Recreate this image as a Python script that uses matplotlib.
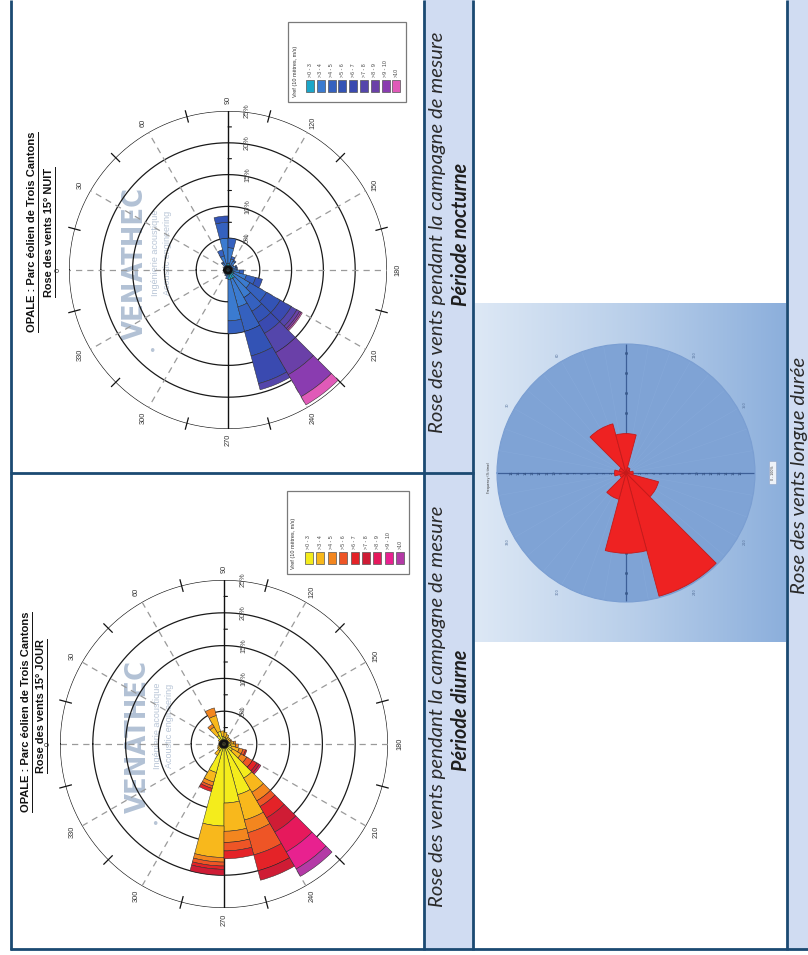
import numpy as np
import matplotlib
matplotlib.use("Agg")
import matplotlib.pyplot as plt
from matplotlib.patches import Rectangle, FancyBboxPatch
from matplotlib.colors import LinearSegmentedColormap

# page size in pixels (figure is drawn at dpi=100)
W, H = 808, 955

FRAME = "#1b4a72"
CAPTION_BG = "#d0dcf2"

SPEED_LABELS = [">0 - 3", ">3 - 4", ">4 - 5", ">5 - 6", ">6 - 7",
                ">7 - 8", ">8 - 9", ">9 - 10", ">10"]
DIR_START = list(range(0, 360, 15))        # start of each 15° sector
COMPASS_LABELS = list(range(0, 360, 30))
RING_PCT = [5, 10, 15, 20, 25]

NIGHT_COLORS = ["#1ba6c9", "#3b7bd0", "#3561bf", "#3353b5", "#3a4ab0",
                "#5446ab", "#6a40a8", "#8a3cb0", "#e05ab8"]
DAY_COLORS = ["#f4ec1c", "#f8b81c", "#f3861f", "#ee5526", "#e42328",
              "#cf1c35", "#e6195c", "#e8218f", "#b43aa6"]

# frequency (%) per sector, one row per sector, one column per speed class
NIGHT_FREQ = [
    [0.4, 0.3, 0, 0, 0, 0, 0, 0, 0],          # 0
    [0.4, 0.3, 0, 0, 0, 0, 0, 0, 0],          # 15
    [0.4, 0.4, 0, 0, 0, 0, 0, 0, 0],          # 30
    [0.6, 0.7, 0.2, 0, 0, 0, 0, 0, 0],        # 45
    [0.8, 1.5, 1.0, 0, 0, 0, 0, 0, 0],        # 60
    [1.0, 4.0, 2.5, 1.0, 0, 0, 0, 0, 0],      # 75
    [1.0, 2.5, 1.5, 0, 0, 0, 0, 0, 0],        # 90
    [0.8, 1.0, 0.4, 0, 0, 0, 0, 0, 0],        # 105
    [0.8, 0.8, 0.2, 0, 0, 0, 0, 0, 0],        # 120
    [0.6, 0.5, 0, 0, 0, 0, 0, 0, 0],          # 135
    [0.7, 0.6, 0.2, 0, 0, 0, 0, 0, 0],        # 150
    [0.7, 0.6, 0.2, 0, 0, 0, 0, 0, 0],        # 165
    [0.8, 1.0, 0.7, 0, 0, 0, 0, 0, 0],        # 180
    [1.0, 2.0, 1.5, 1.1, 0, 0, 0, 0, 0],      # 195
    [1.0, 3.0, 3.0, 2.5, 2.0, 1.0, 0.5, 0.3, 0.2],   # 210
    [1.5, 3.5, 2.5, 2.0, 2.0, 3.5, 4.0, 4.0, 1.5],   # 225
    [1.5, 4.5, 4.0, 4.0, 4.5, 1.0, 0, 0, 0],  # 240
    [1.5, 6.5, 2.0, 0, 0, 0, 0, 0, 0],        # 255
    [0.8, 0.6, 0, 0, 0, 0, 0, 0, 0],          # 270
    [0.6, 0.4, 0, 0, 0, 0, 0, 0, 0],          # 285
    [0.5, 0.3, 0, 0, 0, 0, 0, 0, 0],          # 300
    [0.4, 0.3, 0, 0, 0, 0, 0, 0, 0],          # 315
    [0.4, 0.3, 0, 0, 0, 0, 0, 0, 0],          # 330
    [0.4, 0.3, 0, 0, 0, 0, 0, 0, 0],          # 345
]

DAY_FREQ = [
    [0.5, 0.3, 0, 0, 0, 0, 0, 0, 0],          # 0
    [0.5, 0.3, 0, 0, 0, 0, 0, 0, 0],          # 15
    [0.6, 0.4, 0, 0, 0, 0, 0, 0, 0],          # 30
    [1.5, 1.5, 0.5, 0, 0, 0, 0, 0, 0],        # 45
    [2.0, 2.5, 1.2, 0, 0, 0, 0, 0, 0],        # 60
    [1.2, 0.8, 0, 0, 0, 0, 0, 0, 0],          # 75
    [1.0, 0.8, 0, 0, 0, 0, 0, 0, 0],          # 90
    [0.9, 0.6, 0, 0, 0, 0, 0, 0, 0],          # 105
    [0.7, 0.5, 0, 0, 0, 0, 0, 0, 0],          # 120
    [0.7, 0.5, 0, 0, 0, 0, 0, 0, 0],          # 135
    [0.7, 0.4, 0.2, 0, 0, 0, 0, 0, 0],        # 150
    [0.9, 0.6, 0.3, 0, 0, 0, 0, 0, 0],        # 165
    [1.0, 0.8, 0.4, 0, 0, 0, 0, 0, 0],        # 180
    [1.2, 1.2, 0.6, 0.4, 0.2, 0, 0, 0, 0],    # 195
    [1.5, 1.5, 1.0, 1.0, 0.8, 0.4, 0.3, 0, 0],       # 210
    [6.0, 2.5, 1.5, 1.0, 2.0, 2.5, 3.5, 3.0, 1.3],   # 225
    [8.0, 4.0, 2.0, 3.5, 2.5, 1.5, 0, 0, 0],  # 240
    [9.0, 4.3, 1.7, 1.3, 1.2, 0, 0, 0, 0],    # 255
    [12.5, 4.8, 0.7, 0.6, 0.5, 0.9, 0, 0, 0], # 270
    [4.5, 1.5, 0.6, 0.4, 0.5, 0, 0, 0, 0],    # 285
    [1.2, 0.8, 0, 0, 0, 0, 0, 0, 0],          # 300
    [0.7, 0.5, 0, 0, 0, 0, 0, 0, 0],          # 315
    [0.6, 0.4, 0, 0, 0, 0, 0, 0, 0],          # 330
    [0.5, 0.3, 0, 0, 0, 0, 0, 0, 0],          # 345
]

# long-term rose, 30° sectors centred on the direction
LT_DIRS = [0, 30, 60, 90, 120, 150, 180, 210, 240, 270, 300, 330]
LT_FREQ = [1.6, 1.0, 7.1, 5.5, 0.8, 0.6, 1.0, 4.7, 17.8, 11.2, 3.8, 0.9]
LT_RMAX = 18

CAPTION = "Rose des vents pendant la campagne de mesure"
TITLE_1 = "OPALE : Parc éolien de Trois Cantons"

SANS = ["Liberation Sans", "DejaVu Sans"]
CAP_FONT = ["Lato", "DejaVu Sans"]

fig = plt.figure(figsize=(W / 100, H / 100), dpi=100)
fig.patch.set_facecolor("white")

# full-page axes in pixel coordinates (y pointing down)
bg = fig.add_axes([0, 0, 1, 1])
bg.set_xlim(0, W)
bg.set_ylim(H, 0)
bg.axis("off")


def px_axes(cx, cy, r, **kw):
    return fig.add_axes([(cx - r) / W, (H - cy - r) / H, 2 * r / W, 2 * r / H], **kw)


# ---- table cells ----
bg.add_patch(Rectangle((424, 0), 49, 949, color=CAPTION_BG, zorder=0))
bg.add_patch(Rectangle((787, 0), W - 787, 949, color=CAPTION_BG, zorder=0))

# long-term rose screenshot background (horizontal blue gradient)
grad_cmap = LinearSegmentedColormap.from_list("bluegrad", ["#dde8f5", "#b9cfea", "#8cafdc"])
bg.imshow(np.linspace(0, 1, 256)[None, :], cmap=grad_cmap, aspect="auto",
          extent=(475, 786, 642, 303), zorder=0.5)
bg.set_xlim(0, W)
bg.set_ylim(H, 0)

frame_kw = dict(color=FRAME, lw=2.0, solid_capstyle="butt", zorder=5)
bg.plot([10.7, 10.7], [0, 949.5], **frame_kw)
bg.plot([9.5, W], [948.7, 948.7], **frame_kw)
bg.plot([424, 424], [0, 949.5], **frame_kw)
bg.plot([473, 473], [0, 949.5], **frame_kw)
bg.plot([786.7, 786.7], [0, 949.5], **frame_kw)
bg.plot([9.5, 474], [472.5, 472.5], **frame_kw)

# ---- captions (page is turned, text runs bottom-to-top) ----
cap_kw = dict(rotation=90, ha="center", va="center", family=CAP_FONT, style="italic")
bg.text(437, 232, CAPTION, fontsize=14.6, weight="normal", color="#2a2a2a", **cap_kw)
bg.text(461, 234, "Période nocturne", fontsize=14.2, weight="bold", color="#1e1e1e", **cap_kw)
bg.text(437, 706, CAPTION, fontsize=14.6, weight="normal", color="#2a2a2a", **cap_kw)
bg.text(461, 710, "Période diurne", fontsize=14.2, weight="bold", color="#1e1e1e", **cap_kw)
bg.text(799, 475, "Rose des vents longue durée", fontsize=14.6, weight="normal",
        color="#2a2a2a", **cap_kw)


def wind_rose(ax, freq, colors, rmax=25):
    ax.set_theta_zero_location("W")
    ax.set_theta_direction(-1)
    ax.set_facecolor("none")
    ax.grid(False)
    ax.set_xticks([])
    ax.set_yticks([])
    ax.spines["polar"].set_visible(False)
    ax.set_ylim(0, rmax)

    t = np.linspace(0, 2 * np.pi, 721)
    for r in RING_PCT:
        ax.plot(t, np.full_like(t, r), color="#1a1a1a", lw=0.9, zorder=2)
    for a in COMPASS_LABELS:
        th = np.deg2rad(a)
        if a in (90, 270):
            ax.plot([th, th], [0, rmax], color="#111111", lw=1.0, zorder=2.5)
        else:
            ax.plot([th, th], [0, rmax], color="#9a9a9a", lw=0.9, ls=(0, (5, 4)), zorder=2)
        ax.text(th, rmax * 1.07, str(a), rotation=90, ha="center", va="center",
                fontsize=5.3, family=SANS, color="#333333")
    # ticks across the outer ring
    for a in range(15, 360, 30):
        th = np.deg2rad(a)
        ax.plot([th, th], [rmax - 0.9, rmax + 0.9], color="#111111", lw=0.9, zorder=2,
                clip_on=False)
    # radial ticks and labels along the 90° axis
    for r in np.arange(2.5, rmax, 5):
        ax.annotate("", xy=(np.pi / 2, r), xytext=(2.5, 0), textcoords="offset points",
                    arrowprops=dict(arrowstyle="-", lw=0.8, color="#111111",
                                    shrinkA=0, shrinkB=0))
    for r in RING_PCT:
        ax.annotate(f"{r}%", xy=(np.pi / 2, r), xytext=(14, 0), textcoords="offset points",
                    rotation=90, ha="center", va="center", fontsize=5.3, family=SANS,
                    color="#444444")

    theta = np.deg2rad(np.array(DIR_START) + 7.5)
    freq = np.array(freq, dtype=float)
    bottom = np.zeros(len(theta))
    for k, c in enumerate(colors):
        h = freq[:, k]
        m = h > 0
        ax.bar(theta[m], h[m], width=np.deg2rad(15), bottom=bottom[m], color=c,
               edgecolor="#2a2a2a", linewidth=0.35, zorder=3)
        bottom += h
    ax.plot(np.linspace(0, 2 * np.pi, 40), np.full(40, 0.5), color="#111111", lw=2.0, zorder=4)


marks = []


def watermark(cx, cy):
    mark = bg.text(cx, cy, "VENATHEC", rotation=90, ha="center", va="center", fontsize=24,
                   weight="bold", stretch="condensed", family=["DejaVu Sans"],
                   color="#9fb2cb", alpha=0.8, zorder=6)
    marks.append(mark)
    bg.text(cx + 20, cy - 10, "Ingénierie acoustique", rotation=90, ha="center", va="center",
            fontsize=6.5, family=SANS, color="#b8c5d6", zorder=6)
    bg.text(cx + 32, cy - 10, "Acoustic engineering", rotation=90, ha="center", va="center",
            fontsize=6.5, family=SANS, color="#b8c5d6", zorder=6)
    bg.text(cx + 17, cy + 88, "•", ha="center", va="center", fontsize=9, color="#b8c5d6",
            zorder=6)


def speed_legend(x0, y0, w, h, colors, step):
    bg.add_patch(Rectangle((x0, y0), w, h, facecolor="white", edgecolor="#7a7a7a",
                           lw=0.9, zorder=6))
    bg.text(x0 + 7, y0 + h - 5, "Vref (10 mètres, m/s)", rotation=90, ha="center",
            va="bottom", fontsize=4, family=SANS, color="#333333", zorder=7)
    for i, (c, lab) in enumerate(zip(colors, SPEED_LABELS)):
        bx = x0 + 18 + i * step
        bg.add_patch(Rectangle((bx, y0 + h - 22), 8, 12, facecolor=c, edgecolor="#555555",
                               lw=0.5, zorder=7))
        bg.text(bx + 4, y0 + h - 25, lab, rotation=90, ha="center", va="bottom",
                fontsize=3.8, family=SANS, color="#444444", zorder=7)


# ---- night rose ----
ax_n = px_axes(228, 270, 159, projection="polar")
wind_rose(ax_n, NIGHT_FREQ, NIGHT_COLORS)
watermark(135, 263)
speed_legend(288, 22, 118, 80, NIGHT_COLORS, 10.8)
t1 = bg.text(32, 232, TITLE_1, rotation=90, ha="center", va="center", fontsize=8.0,
             weight="bold", family=SANS, color="#111111", zorder=7)
t2 = bg.text(49, 232, "Rose des vents 15° NUIT", rotation=90, ha="center", va="center",
             fontsize=7.9, weight="bold", family=SANS, color="#111111", zorder=7)

# ---- day rose ----
ax_d = px_axes(224, 744, 164, projection="polar")
wind_rose(ax_d, DAY_FREQ, DAY_COLORS)
watermark(138, 736)
speed_legend(287, 491, 122, 83, DAY_COLORS, 11.4)
t3 = bg.text(26, 712, TITLE_1, rotation=90, ha="center", va="center", fontsize=8.0,
             weight="bold", family=SANS, color="#111111", zorder=7)
t4 = bg.text(41, 706, "Rose des vents 15° JOUR", rotation=90, ha="center", va="center",
             fontsize=7.9, weight="bold", family=SANS, color="#111111", zorder=7)

# ---- long-term rose ----
ax_l = px_axes(626, 473, 129, projection="polar")
ax_l.set_theta_zero_location("W")
ax_l.set_theta_direction(-1)
ax_l.set_facecolor("#7fa3d5")
ax_l.grid(False)
ax_l.set_xticks([])
ax_l.set_yticks([])
ax_l.spines["polar"].set_color("#7a9ed2")
ax_l.set_ylim(0, LT_RMAX)
for a in range(0, 360, 10):
    th = np.deg2rad(a)
    ax_l.plot([th, th], [0, LT_RMAX], color="#86a9da", lw=0.4, zorder=1)
for a in (0, 90, 180, 270):
    th = np.deg2rad(a)
    ax_l.plot([th, th], [0, LT_RMAX], color="#3d5f98", lw=0.9, zorder=2)
for a in range(30, 360, 30):
    if a % 90:
        ax_l.text(np.deg2rad(a), LT_RMAX * 1.06, str(a), rotation=90, ha="center",
                  va="center", fontsize=2.5, color="#55709a")
for r in range(2, 17):
    for a in (0, 180):
        ax_l.text(np.deg2rad(a), r, str(r), rotation=90, ha="center", va="center",
                  fontsize=2.6, color="#2d4a7a", zorder=2)
for r in np.arange(8.4, 17.5, 2.8):
    for a in (90, 270):
        ax_l.plot(np.deg2rad(a), r, marker="s", ms=1.0, color="#3a5a8c", zorder=2)
ax_l.bar(np.deg2rad(LT_DIRS), LT_FREQ, width=np.deg2rad(30), color="#ee2222",
         edgecolor="#c41a1a", linewidth=0.6, zorder=3)
bg.add_patch(FancyBboxPatch((770, 462), 6, 22, boxstyle="round,pad=0.5,rounding_size=1",
                            facecolor="#eef2f8", edgecolor="#9aaccc", lw=0.5, zorder=3))
bg.text(773, 473, "0 - 100%", rotation=90, ha="center", va="center", fontsize=2.3,
        color="#333333", zorder=4)
bg.text(489, 477, "Frequency (% time)", rotation=90, ha="center", va="center",
        fontsize=2.3, color="#333333", zorder=4)

# fit the watermark to its printed length, then underline the chart titles
renderer = fig.canvas.get_renderer()
for mark in marks:
    bb = mark.get_window_extent(renderer)
    mark.set_fontsize(mark.get_fontsize() * 153 / bb.height)
fig.canvas.draw()
for t in (t1, t2, t3, t4):
    bb = t.get_window_extent()
    x = bb.x1 + 1
    bg.plot([x, x], [H - bb.y0, H - bb.y1], color="#111111", lw=0.7, zorder=7)

fig.savefig("out.png", dpi=100)
